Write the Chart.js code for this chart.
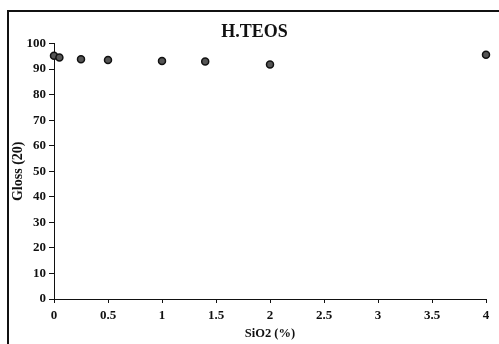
<!DOCTYPE html>
<html>
<head>
<meta charset="utf-8">
<script src="https://cdn.jsdelivr.net/npm/chart.js@4/dist/chart.umd.min.js"></script>
<style>
  html, body { margin: 0; padding: 0; background: #fff; }
  #wrap { position: relative; width: 499px; height: 344px; }
  #frame { position: absolute; left: 7px; top: 10px; right: 0; bottom: 0; border-left: 2px solid #111; border-top: 2px solid #111; pointer-events: none; }
  canvas { position: absolute; left: 0; top: 0; }
</style>
</head>
<body>
<div id="wrap">
  <canvas id="c" width="499" height="344"></canvas>
  <div id="frame"></div>
</div>
<script>
const title = "H.TEOS";
const xTitle = "SiO2 (%)";
const yTitle = "Gloss (20)";
const sio2 = [0, 0.05, 0.25, 0.5, 1, 1.4, 2, 4];
const gloss = [95.2, 94.6, 93.9, 93.6, 93.2, 93.0, 91.8, 95.6];

const points = sio2.map((x, i) => ({ x: x, y: gloss[i] }));

new Chart(document.getElementById('c'), {
  type: 'scatter',
  data: {
    datasets: [{
      label: 'H.TEOS',
      data: points,
      pointStyle: 'circle',
      pointRadius: 3.5,
      backgroundColor: '#555',
      borderColor: '#111',
      borderWidth: 1.5,
      clip: false
    }]
  },
  options: {
    responsive: false,
    animation: false,
    layout: { padding: { left: 10, right: 0, top: 0, bottom: 0 } },
    plugins: {
      legend: { display: false },
      tooltip: { enabled: false },
      title: {
        display: true,
        text: title,
        color: '#111',
        font: { family: 'Liberation Serif', size: 18, weight: 'bold' },
        padding: { top: 22, bottom: 0 }
      }
    },
    scales: {
      x: {
        type: 'linear',
        min: 0, max: 4,
        ticks: {
          stepSize: 0.5, color: '#111',
          font: { family: 'Liberation Serif', size: 13, weight: 'bold' },
          padding: 5, maxRotation: 0,
          callback: (v) => String(v)
        },
        grid: { drawOnChartArea: false, drawTicks: true, tickLength: 4, color: '#111' },
        border: { color: '#111', width: 1 },
        title: { display: true, text: xTitle, color: '#111', font: { family: 'Liberation Serif', size: 12.5, weight: 'bold' }, padding: { top: 0, bottom: 3 } },
        afterFit: (s) => { s.height = 45; }
      },
      y: {
        min: 0, max: 100,
        ticks: { stepSize: 10, color: '#111', font: { family: 'Liberation Serif', size: 13, weight: 'bold' }, padding: 3 },
        grid: { drawOnChartArea: false, drawTicks: true, tickLength: 5, color: '#111' },
        border: { color: '#111', width: 1 },
        title: { display: true, text: yTitle, color: '#111', font: { family: 'Liberation Serif', size: 14, weight: 'bold' }, padding: { top: 0, bottom: 0 } },
        afterFit: (s) => { s.width = 44; }
      },
      yRightSpacer: {
        type: 'linear',
        position: 'right',
        display: true,
        min: 0, max: 100,
        ticks: { display: false },
        grid: { display: false },
        border: { display: false },
        afterFit: (s) => { s.width = 13; }
      }
    }
  }
});
</script>
</body>
</html>
